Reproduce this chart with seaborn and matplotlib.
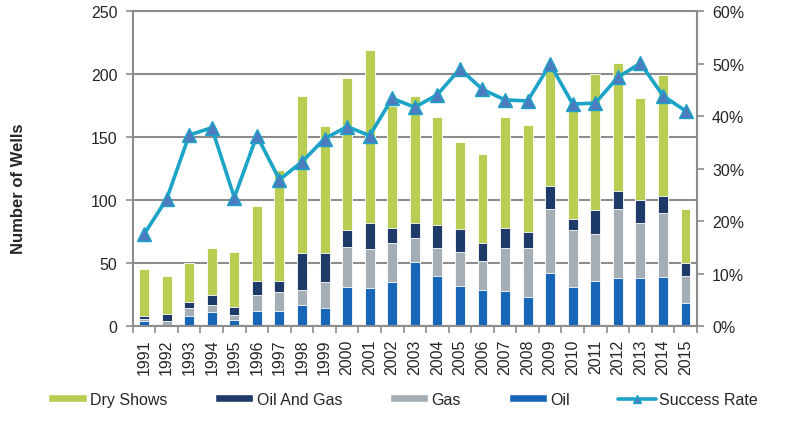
import numpy as np
import pandas as pd
import matplotlib
matplotlib.use("Agg")
import matplotlib.pyplot as plt
import seaborn as sns
from matplotlib.patches import Patch
from matplotlib.lines import Line2D
from matplotlib.ticker import PercentFormatter, FixedLocator

# =============================================================================
# Datos
# =============================================================================
years = [str(y) for y in range(1991, 2016)]
oil = [4, 0, 8, 11, 5, 12, 12, 17, 14, 31, 30, 35, 51, 40, 32, 29, 28, 23, 42, 31, 36, 38, 38, 39, 18]
gas = [2, 4, 6, 6, 4, 13, 15, 12, 21, 32, 31, 31, 19, 22, 27, 23, 34, 39, 51, 45, 37, 55, 44, 51, 22]
oil_and_gas = [2, 6, 5, 8, 6, 11, 9, 29, 23, 13, 21, 12, 12, 18, 18, 14, 16, 13, 18, 9, 19, 14, 18, 13, 10]
dry_shows = [37, 30, 31, 37, 44, 59, 88, 125, 101, 121, 137, 97, 101, 86, 69, 71, 88, 85, 98, 89, 108, 102, 81, 96, 43]
success_rate = [17.5, 24.2, 36.4, 37.8, 24.5, 36.3, 27.9, 31.3, 35.7, 38.0, 36.3, 43.4, 41.7,
                44.1, 49.0, 45.1, 43.1, 42.9, 49.9, 42.3, 42.5, 47.4, 50.1, 43.9, 41.0]

series_labels = ["Dry Shows", "Oil And Gas", "Gas", "Oil"]
colores = {"Dry Shows": "#B9CD52", "Oil And Gas": "#1E3A68", "Gas": "#A5ADB5", "Oil": "#1866B8"}
color_linea = "#1BA3C8"
color_marcador = "#4C7CBF"
gris = "#8C8C8C"


def main():
    df = pd.DataFrame({"year": years, "oil": oil, "gas": gas,
                       "oil_and_gas": oil_and_gas, "dry_shows": dry_shows})
    # alturas acumuladas para apilar (se dibujan de atrás hacia adelante)
    df["top_oil"] = df["oil"]
    df["top_gas"] = df["top_oil"] + df["gas"]
    df["top_og"] = df["top_gas"] + df["oil_and_gas"]
    df["top_dry"] = df["top_og"] + df["dry_shows"]

    sns.set_style("white")
    plt.rcParams["font.family"] = ["Liberation Sans", "DejaVu Sans"]

    fig = plt.figure(figsize=(8, 4.35), dpi=100)
    ax = fig.add_axes([0.166, 0.248, 0.705, 0.724])

    capas = [("top_dry", "Dry Shows"), ("top_og", "Oil And Gas"),
             ("top_gas", "Gas"), ("top_oil", "Oil")]
    for col, nombre in capas:
        sns.barplot(data=df, x="year", y=col, color=colores[nombre], saturation=1,
                    width=0.44, edgecolor="white", linewidth=0.6, errorbar=None, ax=ax)

    n = len(years)
    ax.set_xlim(-0.5, n - 0.5)
    ax.set_ylim(0, 250)
    ax.set_yticks(range(0, 251, 50))
    ax.yaxis.grid(True, color=gris, linewidth=1.5)
    ax.set_axisbelow(True)
    for s in ["left", "right", "bottom", "top"]:
        ax.spines[s].set_color(gris)
        ax.spines[s].set_linewidth(1.5)

    ax.set_xticks(range(n))
    ax.set_xticklabels(years, rotation=90)
    ax.xaxis.set_minor_locator(FixedLocator(np.arange(-0.5, n, 1)))
    ax.tick_params(axis="x", which="major", length=0, pad=9, labelsize=11.5)
    ax.tick_params(axis="x", which="minor", length=5, width=1.2, color=gris, bottom=True)
    ax.tick_params(axis="y", length=5, width=1.2, color=gris, pad=6, labelsize=11.5, left=True)
    ax.set_xlabel("")
    ax.set_ylabel("Number of Wells", fontweight="bold", fontsize=12)
    ax.yaxis.set_label_coords(-0.19, 0.44)

    # Tasa de éxito en eje secundario
    ax2 = ax.twinx()
    sns.lineplot(x=np.arange(n), y=success_rate, ax=ax2, color=color_linea, linewidth=2.6,
                 marker="^", markersize=10, markerfacecolor=color_marcador,
                 markeredgecolor=color_linea, markeredgewidth=1)
    ax2.set_ylim(0, 60)
    ax2.set_yticks(range(0, 61, 10))
    ax2.yaxis.set_major_formatter(PercentFormatter(xmax=100, decimals=0))
    ax2.tick_params(axis="y", length=5, width=1.2, color=gris, pad=6, labelsize=11.5, right=True)
    ax2.grid(False)
    for s in ax2.spines.values():
        s.set_visible(False)
    ax.set_xlim(-0.5, n - 0.5)

    handles = [Patch(facecolor=colores[k]) for k in series_labels]
    handles.append(Line2D([0], [0], color=color_linea, linewidth=2.6, marker="^",
                          markersize=6, markerfacecolor=color_marcador, markeredgecolor=color_linea))
    fig.legend(handles, series_labels + ["Success Rate"], loc="center",
               bbox_to_anchor=(0.504, 0.08), ncol=5, frameon=False, fontsize=11.5,
               handlelength=2.4, handleheight=0.4, handletextpad=0.2, columnspacing=3.0)

    fig.savefig("out.png", dpi=100, facecolor="white")


if __name__ == "__main__":
    main()
